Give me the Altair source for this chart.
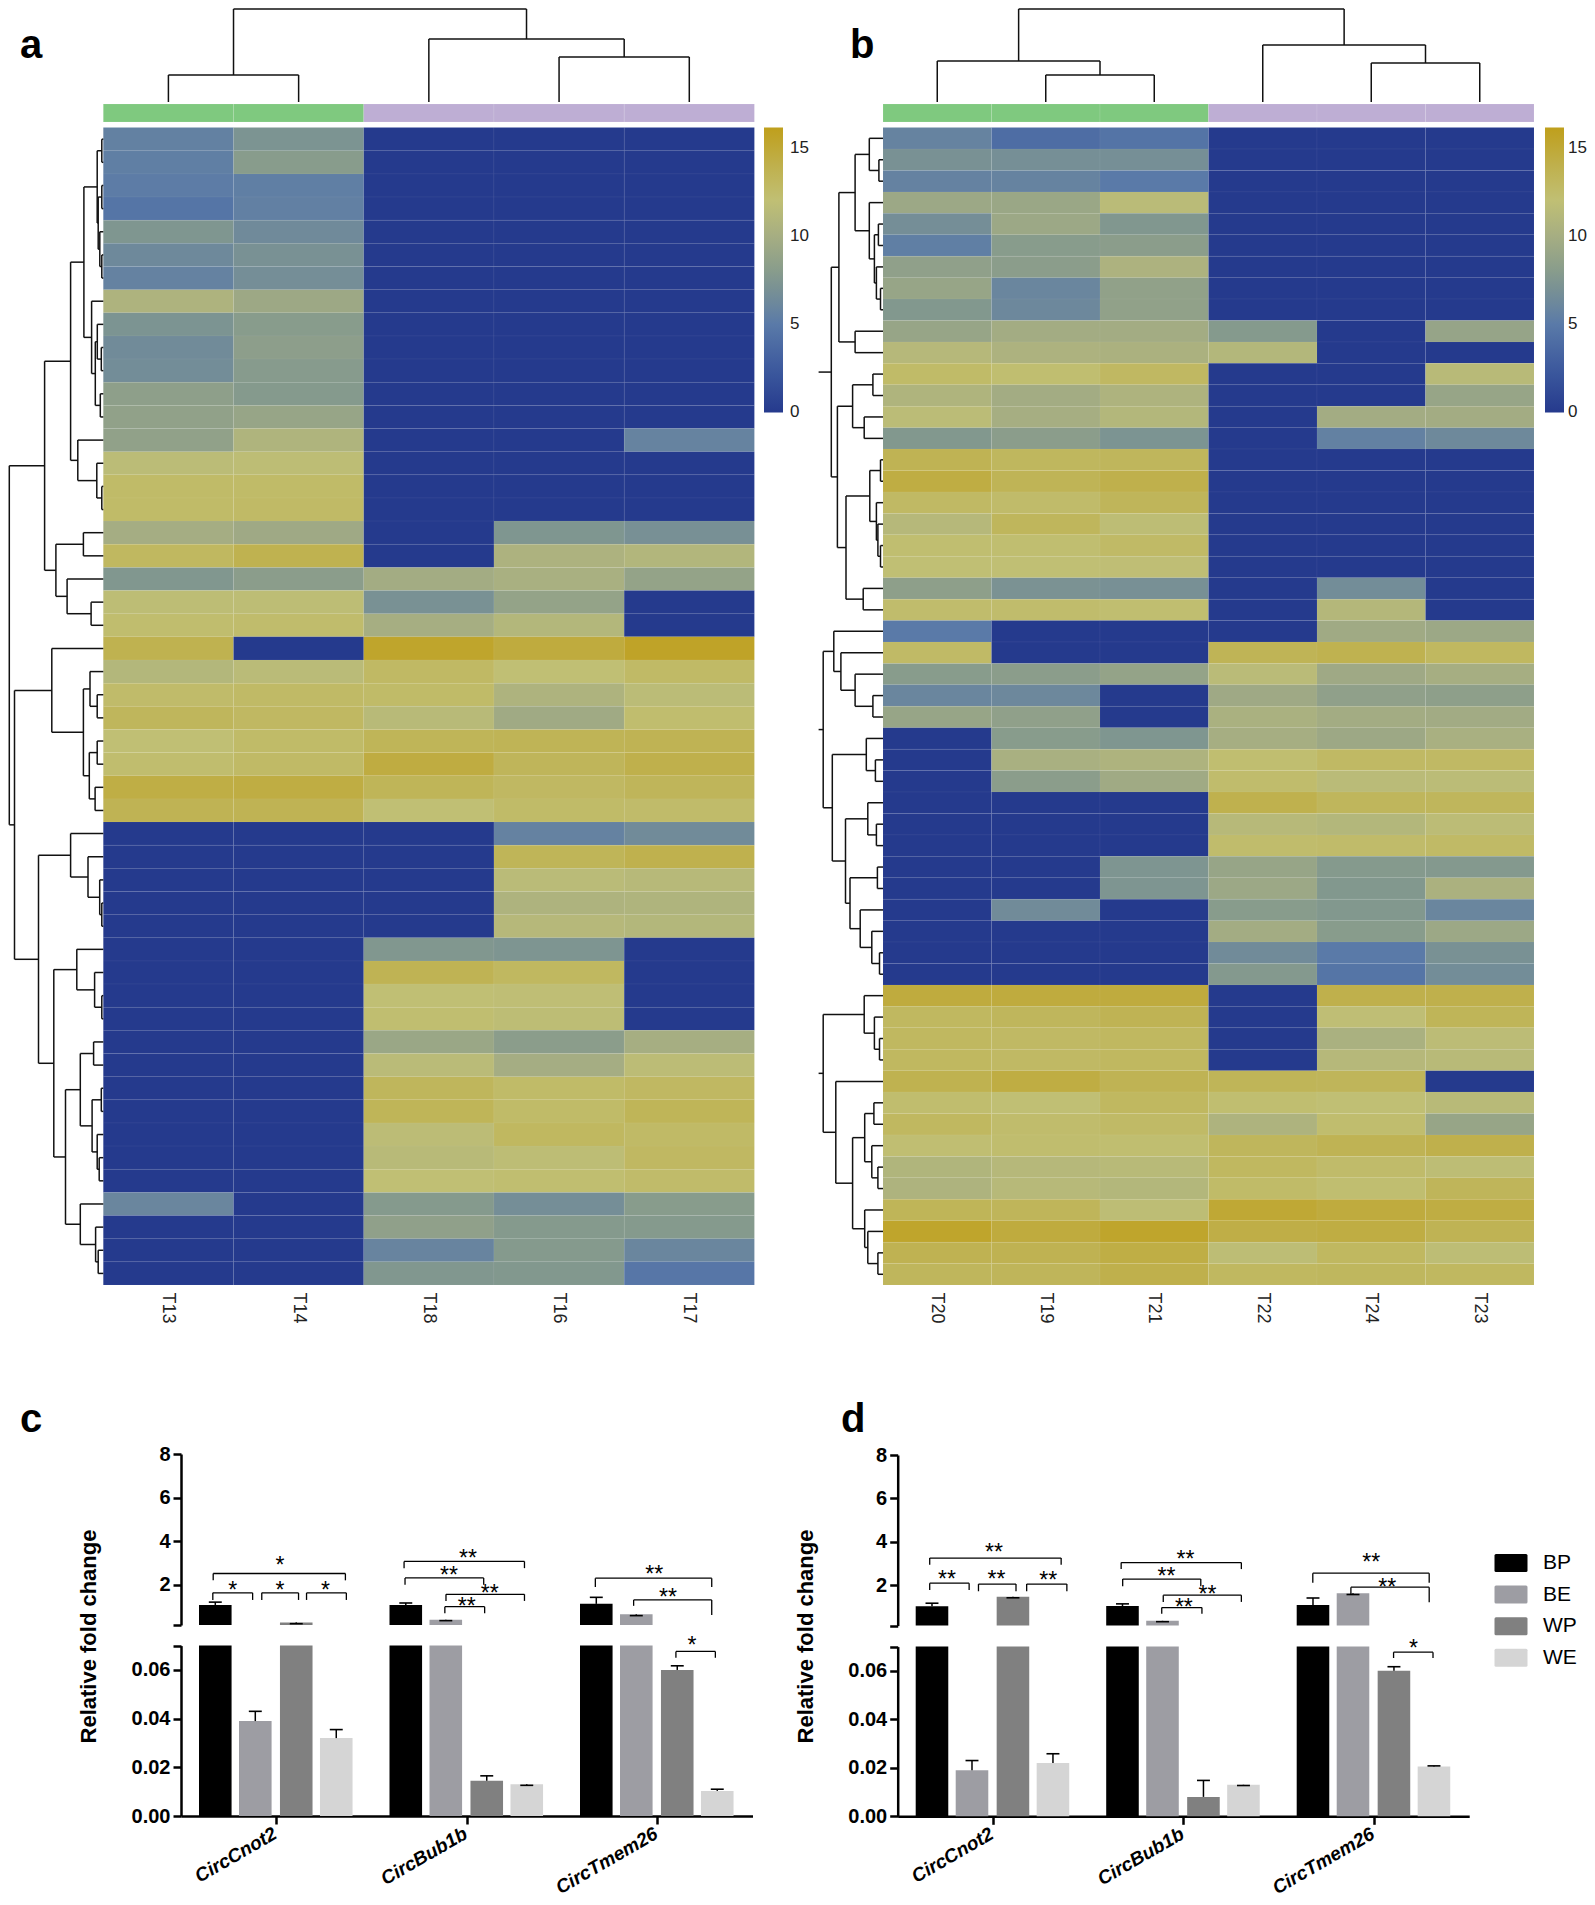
import altair as alt
import pandas as pd

W, H = 1579, 1889
SANS = "Liberation Sans"

# ---------- heatmap values ----------
cols_a = ["T13", "T14", "T18", "T16", "T17"]
group_a = ["A", "A", "B", "B", "B"]
first_a = [
    [5.6, 7.2], [5.4, 8.0], [5.2, 5.4], [4.6, 5.5], [7.4, 6.4], [6.3, 7.0], [5.7, 6.7], [10.6, 9.4],
    [7.2, 8.0], [6.5, 8.3], [6.6, 7.9], [8.4, 7.8], [8.6, 9.0]]
rest_a = [
    [8.6, 10.7, 0, 0, 5.8], [11.6, 11.8, 0, 0, 0], [12.6, 12.6, 0, 0, 0], [12.6, 12.7, 0, 0, 0],
    [9.9, 9.5, 0, 7.4, 6.9], [13.0, 13.8, 0, 10.5, 10.9], [7.5, 8.2, 9.8, 10.2, 8.8],
    [11.8, 11.8, 7.0, 8.8, 0], [12.3, 12.4, 10.0, 11.0, 0], [13.8, 0, 15.4, 14.6, 15.6],
    [11.0, 11.5, 12.8, 12.0, 12.7], [12.5, 12.7, 12.6, 10.6, 11.6], [13.2, 12.9, 11.4, 9.6, 12.3],
    [12.0, 12.6, 13.4, 13.5, 13.6], [12.3, 12.7, 14.5, 13.3, 14.0], [14.3, 14.4, 13.4, 12.9, 13.3],
    [13.6, 13.6, 12.0, 12.6, 12.5], [0, 0, 0, 5.7, 6.5], [0, 0, 0, 13.4, 13.9], [0, 0, 0, 11.5, 11.3],
    [0, 0, 0, 10.6, 10.7], [0, 0, 0, 11.2, 11.0], [0, 0, 7.5, 7.3, 0], [0, 0, 13.6, 13.0, 0],
    [0, 0, 12.0, 11.9, 0], [0, 0, 12.2, 11.8, 0], [0, 0, 9.2, 8.2, 10.0], [0, 0, 11.5, 9.9, 11.7],
    [0, 0, 13.2, 12.6, 12.9], [0, 0, 13.4, 12.6, 13.4], [0, 0, 11.7, 13.0, 12.7], [0, 0, 11.4, 11.8, 12.9],
    [0, 0, 12.0, 12.2, 12.5], [6.0, 0, 7.8, 6.7, 8.0], [0, 0, 8.5, 7.8, 7.8], [0, 0, 5.9, 7.8, 6.0],
    [0, 0, 7.5, 7.6, 4.7]]
matrix_a = [r + [0, 0, 0] for r in first_a] + rest_a

cols_b = ["T20", "T19", "T21", "T22", "T24", "T23"]
group_b = ["A", "A", "A", "B", "B", "B"]
matrix_b = [
    [5.8, 4.0, 4.5, 0, 0, 0], [7.0, 6.8, 6.8, 0, 0, 0], [5.7, 5.8, 5.0, 0, 0, 0], [9.3, 9.2, 11.5, 0, 0, 0],
    [6.7, 9.3, 7.5, 0, 0, 0], [5.4, 8.0, 8.2, 0, 0, 0], [8.5, 8.2, 10.5, 0, 0, 0], [9.0, 6.0, 8.6, 0, 0, 0],
    [7.6, 6.2, 8.6, 0, 0, 0], [9.0, 9.8, 9.8, 7.8, 0, 8.9], [11.2, 10.5, 10.4, 11.0, 0, 0],
    [12.6, 12.2, 12.9, 0, 0, 11.4], [10.7, 9.8, 10.6, 0, 0, 9.0], [11.6, 10.0, 11.0, 0, 9.8, 9.8],
    [7.6, 8.2, 7.2, 0, 5.6, 6.3], [13.6, 13.1, 13.2, 0, 0, 0], [14.4, 13.5, 14.0, 0, 0, 0],
    [12.8, 12.5, 13.3, 0, 0, 0], [11.2, 13.2, 11.8, 0, 0, 0], [12.2, 12.2, 12.7, 0, 0, 0],
    [12.0, 12.0, 11.9, 0, 0, 0], [8.4, 7.1, 6.9, 0, 6.6, 0], [12.4, 12.4, 12.2, 0, 11.1, 0],
    [5.0, 0, 0, 0, 9.6, 9.3], [12.7, 0, 0, 13.5, 13.8, 13.0], [8.0, 8.2, 8.8, 11.5, 9.5, 10.0],
    [6.0, 6.2, 0, 9.5, 8.5, 8.4], [9.0, 8.5, 0, 10.3, 9.8, 9.7], [0, 8.0, 7.4, 10.0, 9.4, 10.2],
    [0, 10.2, 10.6, 12.2, 12.8, 12.8], [0, 8.2, 9.6, 12.4, 11.5, 11.6], [0, 0, 0, 13.9, 13.2, 13.2],
    [0, 0, 0, 11.3, 11.0, 11.7], [0, 0, 0, 12.4, 12.5, 12.7], [0, 0, 7.3, 9.0, 7.8, 7.7],
    [0, 0, 7.3, 9.3, 7.6, 10.4], [0, 6.5, 0, 8.0, 7.6, 6.0], [0, 0, 0, 9.8, 8.0, 9.3],
    [0, 0, 0, 6.5, 5.0, 7.0], [0, 0, 0, 7.7, 4.6, 6.6], [14.6, 14.6, 14.6, 0, 14.0, 14.0],
    [13.0, 13.2, 13.6, 0, 11.9, 13.4], [13.0, 12.8, 13.0, 0, 10.3, 11.7], [13.0, 12.8, 13.0, 0, 11.2, 11.4],
    [13.8, 14.4, 13.6, 13.4, 13.3, 0], [12.3, 12.0, 13.0, 12.2, 12.0, 11.4], [13.0, 12.4, 12.7, 10.6, 12.3, 9.0],
    [12.1, 12.3, 12.2, 13.2, 13.6, 14.0], [10.8, 11.2, 11.4, 13.0, 12.5, 11.8], [10.6, 11.3, 11.0, 12.6, 12.2, 13.3],
    [13.4, 13.3, 11.8, 15.0, 14.6, 14.4], [15.4, 14.6, 15.4, 14.2, 14.4, 13.6], [13.7, 13.7, 14.3, 11.8, 13.0, 11.8],
    [13.2, 13.3, 14.0, 13.0, 13.1, 13.0]]

ramp_values = [-0.01, 2.5, 5, 7.5, 10, 12, 14, 16.13]
ramp_colors = ["#253a8d", "#3d5a9e", "#5a7aa8", "#81978f", "#a6ae82", "#c0bf74", "#bfb04c", "#bf9f1c"]
anno_colors = ["#7fc97f", "#beaed4"]

# ---------- dendrograms: (merge height, child, child), leaves are row numbers ----------
P = (6.1, (1.5, 1, 2), (5.1, (1.5, 3, 4), (3.5, 5, (1.5, 6, 7))))
Q = (11.7, 8, (8.0, (6, 9, (2, 10, 11)), (3, 12, 13)))
A1 = (32.7, (19.4, P, Q), (25.5, 14, (6.5, 15, (1.5, 16, 17))))
A2 = (47.4, (19.9, 18, 19), (36.2, 20, (12.2, 21, 22)))
C = (51.5, 23, (19.9, (13.3, 24, (6.1, 25, 26)), (14.0, (6.1, 27, 28), (8.2, 29, 30))))
E = (32.7, 31, (15.3, 32, (3.6, 33, (1.5, 34, 35))))
G = (26.5, 36, (8.7, 37, (1.5, 38, 39)))
I_ = (23, (9.7, 40, 41), (11.2, (2, 42, 43), (6.1, 44, (4.1, 45, 46))))
J = (23, 47, (7.7, 48, (5.1, 49, 50)))
tree_a = (94, (58.7, A1, A2), (88.8, C, (64.8, E, (49.5, G, (37.8, I_, J)))))

U1 = (27.9, (13.7, 1, (4.1, 2, 3)), (13.7, 4, (8.6, (4.6, 5, 6), (6.6, 7, (2.5, 8, 9)))))
V2 = (37, (13.2, (2.5, 16, 17), (6.6, 18, (5.1, 19, (2.5, 20, 21)))), (19.8, 22, 23))
T1 = (51.7, (44.1, U1, (27.9, 10, 11)), (45.6, (30.4, (10.1, 12, 13), (18.8, 14, 15)), V2))
X = (49.2, 24, (42.1, 25, (27.9, 26, (10.1, 27, 28))))
Z2 = (37.5, (15.2, 32, (6.6, 33, 34)), (33, (5.6, 35, 36), (22.8, 37, (11.2, 38, (3.5, 39, 40)))))
T2 = (59.8, X, (50.7, (16.7, 29, (7.6, 30, 31)), Z2))
DD = (18.3, (9.1, 46, 47), (11.2, 48, (5.1, 49, 50)))
EE = (18.3, 51, (15.2, 52, (5.1, 53, 54)))
T3 = (59.8, (18.8, 41, (8.6, 42, (3.5, 43, 44))), (47.2, 45, (30.4, DD, EE)))
stub_b = 64.4

col_tree_a = (93, (27, 1, 2), (63, 3, (45, 4, 5)))
col_tree_b = (93, (41, 1, (27, 2, 3)), (57, 4, (39, 5, 6)))

# ---------- bars ----------
genes = ["CircCnot2", "CircBub1b", "CircTmem26"]
groups = ["BP", "BE", "WP", "WE"]
bar_colors = ["#000000", "#9d9da3", "#808080", "#d5d5d5"]
bar_offsets = [-0.32, -0.11, 0.105, 0.315]
values_c = [[1.07, 0.039, 0.27, 0.032], [1.07, 0.39, 0.0145, 0.013], [1.12, 0.64, 0.06, 0.0103]]
errors_c = [[1.2, 0.043, 0.21, 0.0355], [1.16, 0.35, 0.0165, 0.0126], [1.42, 0.58, 0.0617, 0.011]]
values_d = [[1.04, 0.019, 1.48, 0.022], [1.05, 0.37, 0.008, 0.013], [1.1, 1.64, 0.06, 0.0205]]
errors_d = [[1.18, 0.023, 1.43, 0.0258], [1.15, 0.33, 0.0148, 0.0127], [1.42, 1.58, 0.0617, 0.0208]]

# left, right, top, left end, right end, star text, star x, star y
brackets_c_up = [
    (0.169, 0.863, 2.515, 2.20, 2.20, "*", 0.52, 3.07), (0.167, 0.376, 1.625, 1.30, 1.30, "*", 0.271, 1.96),
    (0.424, 0.617, 1.625, 1.30, 1.30, "*", 0.52, 1.96), (0.659, 0.868, 1.625, 1.30, 1.30, "*", 0.759, 1.92),
    (1.171, 1.803, 3.07, 2.76, 2.76, "**", 1.506, 3.42), (1.176, 1.589, 2.31, 2.0, 2.0, "**", 1.407, 2.64),
    (1.391, 1.803, 1.56, 1.255, 1.255, "**", 1.621, 1.81), (1.385, 1.594, 0.99, 0.69, 0.69, "**", 1.50, 1.19),
    (2.175, 2.786, 2.3, 1.89, 1.89, "**", 2.484, 2.69), (2.376, 2.786, 1.30, 1.03, 0.61, "**", 2.556, 1.61)]
brackets_c_low = [(2.598, 2.805, 0.0676, 0.065, 0.065, "*", 2.682, 0.0718)]
brackets_d_up = [
    (0.168, 0.858, 3.255, 2.95, 2.95, "**", 0.505, 3.72), (0.168, 0.375, 2.10, 1.79, 1.79, "**", 0.259, 2.50),
    (0.424, 0.621, 2.06, 1.73, 1.73, "**", 0.518, 2.50), (0.677, 0.888, 2.06, 1.73, 1.73, "**", 0.79, 2.43),
    (1.173, 1.804, 3.05, 2.75, 2.75, "**", 1.511, 3.41), (1.181, 1.591, 2.29, 1.96, 1.96, "**", 1.411, 2.62),
    (1.394, 1.804, 1.55, 1.24, 1.24, "**", 1.626, 1.79), (1.386, 1.597, 0.98, 0.69, 0.69, "**", 1.502, 1.18),
    (2.179, 2.79, 2.56, 2.12, 2.12, "**", 2.486, 3.26), (2.379, 2.79, 1.92, 1.58, 1.23, "**", 2.57, 2.13)]
brackets_d_low = [(2.603, 2.81, 0.0677, 0.0653, 0.0653, "*", 2.707, 0.0712)]

UP_LOW, UP_TOP = 0.15, 8
LOW_TOP = 0.07
BAR_W, CAP_W = 0.0855, 0.034


# ---------- helpers ----------
def walk(node, segs):
    if isinstance(node, int):
        return float(node), 0.0
    h, a, b = node
    pa, ha = walk(a, segs)
    pb, hb = walk(b, segs)
    segs.append((pa, pb, h, h))
    segs.append((pa, pa, ha, h))
    segs.append((pb, pb, hb, h))
    return (pa + pb) / 2, h


def segments(*trees, stub=None):
    segs = []
    for t in trees:
        p, h = walk(t, segs)
        if stub is not None:
            segs.append((p, p, h, stub))
    return pd.DataFrame(segs, columns=["p1", "p2", "h1", "h2"])


def qscale(domain, rng):
    return alt.Scale(domain=domain, range=rng, zero=False, nice=False)


def heatmap(cols, matrix, x0, x1, y0, y1, lx, loff):
    rows = list(range(1, len(matrix) + 1))
    df = pd.DataFrame([
        {"row": r, "col": c, "v": matrix[r - 1][j]} for r in rows for j, c in enumerate(cols)])
    return alt.Chart(df).mark_rect(stroke="#ffffff", strokeWidth=0.6, strokeOpacity=0.07).encode(
        x=alt.X("col:N", sort=cols, scale=alt.Scale(domain=cols, range=[x0, x1], paddingInner=0, paddingOuter=0),
                axis=alt.Axis(orient="bottom", offset=y1 - H, domain=False, ticks=False, title=None, labelAngle=90,
                              labelFont=SANS, labelFontSize=18, labelColor="#222222", labelPadding=7)),
        y=alt.Y("row:O", sort=rows, scale=alt.Scale(domain=rows, range=[y0, y1], paddingInner=0, paddingOuter=0), axis=None),
        color=alt.Color("v:Q", scale=alt.Scale(domain=ramp_values, range=ramp_colors, nice=False, zero=False,
                                               interpolate="rgb"),
                        legend=alt.Legend(orient="none", legendX=lx, legendY=y0, gradientLength=285, gradientThickness=19,
                                          title=None, values=[0, 5, 10, 15], labelFont=SANS, labelFontSize=17,
                                          labelColor="#222222", gradientStrokeWidth=0, padding=0, labelOffset=loff)),
    )


def annotation(cols, grp, x0, x1):
    df = pd.DataFrame({"col": cols, "grp": grp, "track": "group"})
    return alt.Chart(df).mark_rect(stroke="#ffffff", strokeWidth=0.5, strokeOpacity=0.2).encode(
        x=alt.X("col:N", sort=cols, scale=alt.Scale(domain=cols, range=[x0, x1], paddingInner=0, paddingOuter=0), axis=None),
        y=alt.Y("track:N", scale=alt.Scale(domain=["group"], range=[96, 114], paddingInner=0, paddingOuter=0), axis=None),
        color=alt.Color("grp:N", scale=alt.Scale(domain=["A", "B"], range=anno_colors), legend=None),
    )


def row_dendro(df, n, hrange, y0, y1):
    return alt.Chart(df).mark_rule(color="#111111", strokeWidth=1.5).encode(
        x=alt.X("h1:Q", scale=qscale([0, 100], hrange), axis=None), x2="h2:Q",
        y=alt.Y("p1:Q", scale=qscale([0.5, n + 0.5], [y0, y1]), axis=None), y2="p2:Q")


def col_dendro(df, n, x0, x1):
    return alt.Chart(df).mark_rule(color="#111111", strokeWidth=1.5).encode(
        x=alt.X("p1:Q", scale=qscale([0.5, n + 0.5], [x0, x1]), axis=None), x2="p2:Q",
        y=alt.Y("h1:Q", scale=qscale([0, 100], [94, -6]), axis=None), y2="h2:Q")


def bar_frame(values, errors):
    out = []
    for i, g in enumerate(genes):
        for j, k in enumerate(groups):
            c = i + 0.5 + bar_offsets[j]
            out.append({"gene": g, "grp": k, "c": c, "l": c - BAR_W, "r": c + BAR_W, "cl": c - CAP_W, "cr": c + CAP_W,
                        "v": values[i][j], "e": errors[i][j]})
    return pd.DataFrame(out)


def bar_panel(values, errors, xr, up_r, low_r, br_up, br_low, legend=None):
    df = bar_frame(values, errors)
    xs = qscale([0, 3], xr)
    yu = qscale([UP_LOW, UP_TOP], up_r)
    yl = qscale([0, LOW_TOP], low_r)
    color = alt.Scale(domain=groups, range=bar_colors)
    no_x = alt.X("l:Q", scale=xs, axis=None)
    up = df[df.v > UP_LOW].assign(base=UP_LOW)
    low = df.assign(vv=df.v.clip(upper=LOW_TOP), ee=df.e.where(df.e < LOW_TOP), base=0.0)
    layers = []
    layers.append(alt.Chart(up).mark_bar().encode(
        x=no_x, x2="r:Q",
        y=alt.Y("v:Q", scale=yu, axis=alt.Axis(
            orient="left", offset=-xr[0], values=[UP_LOW, 2, 4, 6, 8], grid=False,
            labelExpr="datum.value < 1 ? '' : format(datum.value, 'd')", domainWidth=2.5, domainColor="#000000",
            tickWidth=2.5, tickColor="#000000", tickSize=8, labelFont=SANS, labelFontSize=20, labelFontWeight="bold",
            labelColor="#000000", labelPadding=3, title="Relative fold change", titleFont=SANS, titleFontSize=22,
            titleFontWeight="bold", titleColor="#000000", titleX=-80.5, titleY=1628, titleAngle=270)),
        y2="base:Q",
        color=alt.Color("grp:N", scale=color, legend=None)))
    layers.append(alt.Chart(low).mark_bar().encode(
        x=alt.X("l:Q", scale=xs, axis=alt.Axis(
            orient="bottom", offset=low_r[0] - H, values=[0.5, 1.5, 2.5], grid=False, domainWidth=2.5, domainColor="#000000",
            tickWidth=2.5, tickColor="#000000", tickSize=8, title=None,
            labelExpr="datum.value < 1 ? 'CircCnot2' : datum.value < 2 ? 'CircBub1b' : 'CircTmem26'",
            labelFont=SANS, labelFontSize=19, labelFontStyle="italic", labelFontWeight="bold", labelColor="#000000",
            labelAngle=330, labelAlign="right", labelBaseline="top", labelPadding=0, labelFlush=False, labelOverlap=False,
            labelBound=False, labelOffset=-6)),
        x2="r:Q",
        y=alt.Y("vv:Q", scale=yl, axis=alt.Axis(
            orient="left", offset=-xr[0], values=[0, 0.02, 0.04, 0.06, LOW_TOP], grid=False,
            labelExpr="datum.value > 0.065 ? '' : format(datum.value, '.2f')", domainWidth=2.5, domainColor="#000000",
            tickWidth=2.5, tickColor="#000000", tickSize=8, labelFont=SANS, labelFontSize=20, labelFontWeight="bold",
            labelColor="#000000", labelPadding=3, title=None)),
        y2="base:Q",
        color=alt.Color("grp:N", scale=color, legend=legend)))
    # error bars
    for d, ys, field in ((up, yu, "e"), (low.dropna(subset=["ee"]), yl, "ee")):
        top = alt.Y(f"{field}:Q", scale=ys, axis=None)
        base_field = "v" if field == "e" else "vv"
        layers.append(alt.Chart(d).mark_rule(color="#000000", strokeWidth=1.5).encode(
            x=alt.X("c:Q", scale=xs, axis=None), y=top, y2=f"{base_field}:Q"))
        layers.append(alt.Chart(d).mark_rule(color="#000000", strokeWidth=1.6).encode(
            x=alt.X("cl:Q", scale=xs, axis=None), x2="cr:Q", y=top))
    # brackets
    names = ["l", "r", "t", "le", "re", "s", "sx", "sy"]
    for rows, ys in ((br_up, yu), (br_low, yl)):
        b = pd.DataFrame(rows, columns=names)
        layers.append(alt.Chart(b).mark_rule(color="#000000", strokeWidth=1.3).encode(
            x=alt.X("l:Q", scale=xs, axis=None), x2="r:Q", y=alt.Y("t:Q", scale=ys, axis=None)))
        layers.append(alt.Chart(b).mark_rule(color="#000000", strokeWidth=1.3).encode(
            x=alt.X("l:Q", scale=xs, axis=None), y=alt.Y("t:Q", scale=ys, axis=None), y2="le:Q"))
        layers.append(alt.Chart(b).mark_rule(color="#000000", strokeWidth=1.3).encode(
            x=alt.X("r:Q", scale=xs, axis=None), y=alt.Y("t:Q", scale=ys, axis=None), y2="re:Q"))
        layers.append(alt.Chart(b).mark_text(font=SANS, fontSize=23, color="#000000", dy=5, baseline="middle").encode(
            x=alt.X("sx:Q", scale=xs, axis=None), y=alt.Y("sy:Q", scale=ys, axis=None), text="s:N"))
    return layers


def panel_label(txt, px, py):
    return alt.Chart(pd.DataFrame({"t": [txt]})).mark_text(
        font=SANS, fontSize=40, fontWeight="bold", color="#000000", align="left", baseline="alphabetic").encode(
        x=alt.value(px), y=alt.value(py), text="t:N")


legend_bp = alt.Legend(
    orient="none", legendX=1488, legendY=1540, title=None, padding=0, rowPadding=6.6,
    symbolType="M-1,-0.6H1Q1.1,-0.6,1.1,-0.5V0.5Q1.1,0.6,1,0.6H-1Q-1.1,0.6,-1.1,0.5V-0.5Q-1.1,-0.6,-1,-0.6Z",
    symbolSize=900, symbolStrokeWidth=0, labelFont=SANS, labelFontSize=21, labelColor="#000000", labelOffset=17)

layers = [
    heatmap(cols_a, matrix_a, 95.3, 746.4, 119.6, 1277, 756, 7),
    annotation(cols_a, group_a, 95.3, 746.4),
    row_dendro(segments(tree_a), 50, [95.3, -4.7], 119.6, 1277),
    col_dendro(segments(col_tree_a), 5, 95.3, 746.4),
    heatmap(cols_b, matrix_b, 875, 1526, 119.6, 1277, 1537, 4),
    annotation(cols_b, group_b, 875, 1526),
    row_dendro(segments(T1, T2, T3, stub=stub_b), 54, [875, 775], 119.6, 1277),
    col_dendro(segments(col_tree_b), 6, 875, 1526),
]
layers += bar_panel(values_c, errors_c, [173, 744.5], [1617, 1446], [1808, 1637.6], brackets_c_up, brackets_c_low)
layers += bar_panel(values_d, errors_d, [889.7, 1461.2], [1617.6, 1447], [1808.3, 1638.6], brackets_d_up, brackets_d_low,
                    legend=legend_bp)
layers += [panel_label("a", 12, 50), panel_label("b", 842, 50), panel_label("c", 12, 1424), panel_label("d", 833, 1424)]

chart = alt.layer(*layers).resolve_scale(x="independent", y="independent", color="independent").resolve_axis(
    x="independent", y="independent").resolve_legend(color="independent").properties(
    width=W, height=H, padding=0, autosize=alt.AutoSizeParams(type="none", contains="padding"),
    background="#ffffff").configure_view(stroke=None)

chart.save("out.html", embed_options={"renderer": "svg", "actions": False})
